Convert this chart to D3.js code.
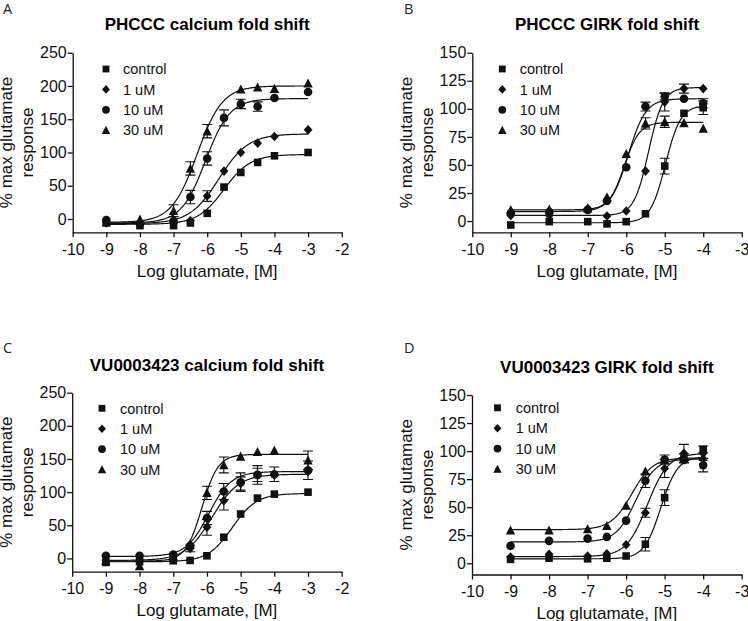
<!DOCTYPE html>
<html lang="en">
<head>
<meta charset="UTF-8">
<title>Glutamate fold shift</title>
<script src="https://cdn.jsdelivr.net/npm/d3@7"></script>
<style>
	body { margin: 0; background: #fff; }
	svg { display: block; font-family: "Liberation Sans", Arial, sans-serif; }
	.tick text { font-size: 16px; fill: #111; }
	.tick line, .domain { stroke: #111; stroke-width: 1.3; }
	.title { font-size: 17px; font-weight: bold; text-anchor: middle; }
	.axis-title { font-size: 17px; text-anchor: middle; fill: #111; }
	.letter { font-family: "Open Sans", sans-serif; font-size: 14.5px; fill: #222; }
	.legend text { font-size: 14.5px; fill: #111; }
	.curve { fill: none; stroke: #111; stroke-width: 1.2; }
	.err { stroke: #111; stroke-width: 1.1; fill: none; }
</style>
</head>
<body>
<div id="chart"></div>
<script>
// ---- data ----
var seriesLabels = ["control", "1 uM", "10 uM", "30 uM"];

var xCalcium = [-9, -8, -7, -6.5, -6, -5.5, -5, -4.5, -4, -3];
var xGirk = [-9, -8, -7, -6.5, -6, -5.5, -5, -4.5, -4];

var xTicksCalcium = [-10, -9, -8, -7, -6, -5, -4, -3, -2];
var xTicksGirk = [-10, -9, -8, -7, -6, -5, -4, -3];
var yTicksCalcium = [0, 50, 100, 150, 200, 250];
var yTicksGirk = [0, 25, 50, 75, 100, 125, 150];

// rows: control, 1 uM, 10 uM, 30 uM
var phcccCalciumMean = [
	[-5.5, -10, -10, -6, 8.5, 48, 70, 85, 95, 100],
	[-6, -7.5, -6, -2.5, 34.5, 72, 100, 114, 124, 134],
	[-1.5, -7.5, -3, 33, 91, 152, 173, 169, 182, 191],
	[-5, -0.5, 12.5, 76, 132, null, 195, 198, 196, 204]
];
var phcccCalciumErr = [
	[0, 0, 0, 0, 0, 0, 0, 0, 0, 0],
	[0, 0, 0, 0, 8, 0, 0, 0, 0, 0],
	[0, 0, 0, 10, 10, 12, 7, 7, 0, 0],
	[0, 0, 9, 10, 10, 0, 0, 0, 0, 0]
];
// [bottom, top, logEC50, hill]
var phcccCalciumFit = [
	[-8, 97, -5.5, 1.1],
	[-7, 128, -5.65, 1.0],
	[-6, 181, -6.05, 1.2],
	[-5, 200, -6.3, 1.15]
];

var phcccGirkMean = [
	[-3.5, -0.5, -0.5, -2.5, -0.5, 6.5, 49, 96, 101],
	[5, 5, 11, 4.5, 9, 44.5, 106, 118, 118],
	[7, 8, 10, 18, 48, 102, 111, 109, 105],
	[10, 10.5, 11.5, 21.5, 60, 87, 88.5, 87.5, 82.5]
];
var phcccGirkErr = [
	[0, 0, 0, 0, 0, 0, 7, 0, 6],
	[0, 0, 0, 0, 0, 0, 8, 4, 0],
	[0, 0, 0, 0, 0, 4, 3, 0, 4],
	[0, 0, 0, 0, 0, 5, 5, 0, 0]
];
var phcccGirkFit = [
	[-1.5, 103, -4.98, 2.2],
	[5, 119, -5.42, 2.3],
	[8.5, 109, -5.95, 1.9],
	[10, 88, -6.05, 2.2]
];

var vuCalciumMean = [
	[-6, -5, -3.5, -3, 4, 32, 67, 91, 97, 100],
	[-3, -3, -1, 15, 47, 87, 113, 126, 126, 131],
	[4, 4, 6, 19, 61, 101, 115, 126, 127, 133],
	[-3, -11.5, 2.5, 22, 99, 141, 154, 161, 163, 148]
];
var vuCalciumErr = [
	[0, 0, 0, 0, 0, 0, 0, 0, 0, 0],
	[0, 0, 0, 5, 12, 14, 10, 10, 0, 0],
	[0, 0, 0, 0, 10, 12, 14, 14, 11, 14],
	[0, 0, 0, 0, 10, 12, 0, 0, 0, 14]
];
var vuCalciumFit = [
	[-5, 98, -5.25, 1.2],
	[-3, 127, -5.85, 1.1],
	[3, 131, -5.95, 1.3],
	[-4, 157, -6.15, 1.8]
];

var vuGirkMean = [
	[3.5, 4.5, 4, 4.5, 6.5, 17, 58.5, 93.5, 101.5],
	[5.5, 8, 6.5, 8.5, 16.5, 45, 84.5, 98, 98],
	[15.5, 20, 22, 23.5, 38, 73.5, 92.5, 92, 87.5],
	[29.5, 29.5, 30.5, 33.5, 51.5, 82, 92, 95, 95]
];
var vuGirkErr = [
	[0, 0, 0, 0, 0, 6, 7, 4, 3],
	[0, 0, 0, 0, 0, 4, 8, 8, 0],
	[0, 0, 0, 0, 0, 6, 4, 0, 6],
	[0, 0, 0, 0, 0, 0, 0, 0, 0]
];
var vuGirkFit = [
	[4, 95, -5.1, 2.0],
	[6, 98, -5.45, 1.6],
	[19, 93, -5.75, 1.7],
	[30, 94, -5.85, 1.6]
];

// ---- layout ----
var panels = [
	{letter: "A", title: "PHCCC calcium fold shift", xs: xCalcium, mean: phcccCalciumMean, err: phcccCalciumErr, fit: phcccCalciumFit,
	 xDomain: [-10, -2], yDomain: [-20, 250], xTicks: xTicksCalcium, yTicks: yTicksCalcium,
	 left: 72.7, right: 341.7, top: 52.7, bottom: 232.3, letterX: 3, letterY: 14, titleY: 30, legX: 106, legY: 69, legTextX: 123},
	{letter: "B", title: "PHCCC GIRK fold shift", xs: xGirk, mean: phcccGirkMean, err: phcccGirkErr, fit: phcccGirkFit,
	 xDomain: [-10, -3], yDomain: [-10, 150], xTicks: xTicksGirk, yTicks: yTicksGirk,
	 left: 472.3, right: 741.7, top: 52.7, bottom: 232.3, letterX: 404, letterY: 14, titleY: 30, legX: 502.3, legY: 69, legTextX: 519.7},
	{letter: "C", title: "VU0003423 calcium fold shift", xs: xCalcium, mean: vuCalciumMean, err: vuCalciumErr, fit: vuCalciumFit,
	 xDomain: [-10, -2], yDomain: [-20, 250], xTicks: xTicksCalcium, yTicks: yTicksCalcium,
	 left: 72.2, right: 341.7, top: 392.7, bottom: 571.7, letterX: 3, letterY: 353, titleY: 370.5, legX: 102, legY: 408.3, legTextX: 120},
	{letter: "D", title: "VU0003423 GIRK fold shift", xs: xGirk, mean: vuGirkMean, err: vuGirkErr, fit: vuGirkFit,
	 xDomain: [-10, -3], yDomain: [-10, 150], xTicks: xTicksGirk, yTicks: yTicksGirk,
	 left: 472, right: 741.7, top: 395, bottom: 574.5, letterX: 404, letterY: 353, titleY: 372.5, legX: 497.5, legY: 407.8, legTextX: 515.7}
];

var legendStep = 20.4;

// marker shapes: square, diamond, circle, triangle
function markerPath(i, k) {
	k = k || 1;
	if (i === 0) {
		var s = 3.8 * k;
		return 'M' + (-s) + ',' + (-s) + 'h' + (2 * s) + 'v' + (2 * s) + 'h' + (-2 * s) + 'Z';
	}
	if (i === 1) {
		var w = 4.4 * k, h = 4.8 * k;
		return 'M0,' + (-h) + 'L' + w + ',0L0,' + h + 'L' + (-w) + ',0Z';
	}
	if (i === 2) {
		var r = 4.3 * k;
		return 'M' + (-r) + ',0a' + r + ',' + r + ' 0 1,0 ' + (2 * r) + ',0a' + r + ',' + r + ' 0 1,0 ' + (-2 * r) + ',0Z';
	}
	var tw = 4.7 * k, th = 4.3 * k;
	return 'M0,' + (-th - 0.5) + 'L' + tw + ',' + th + 'L' + (-tw) + ',' + th + 'Z';
}

function logistic(p, x) {
	return p[0] + (p[1] - p[0]) / (1 + Math.pow(10, (p[2] - x) * p[3]));
}

// plain hyphen for negatives, as in the original figure
function tickLabel(d) { return String(d); }

var svg = d3.select('#chart').append('svg')
	.attr('width', 748)
	.attr('height', 621);

svg.append('rect').attr('width', 748).attr('height', 621).attr('fill', '#fff');

panels.forEach(function (p) {
	var x = d3.scaleLinear().domain(p.xDomain).range([p.left, p.right]);
	var y = d3.scaleLinear().domain(p.yDomain).range([p.bottom, p.top]);
	var g = svg.append('g');

	// axes
	g.append('g')
		.attr('transform', 'translate(0,' + p.bottom + ')')
		.call(d3.axisBottom(x).tickValues(p.xTicks).tickSize(5).tickSizeOuter(0).tickPadding(6).tickFormat(tickLabel))
		.call(function (a) { a.selectAll('text').attr('font-family', null).attr('font-size', null); });

	g.append('g')
		.attr('transform', 'translate(' + p.left + ',0)')
		.call(d3.axisLeft(y).tickValues(p.yTicks).tickSize(5).tickSizeOuter(0).tickPadding(1).tickFormat(tickLabel))
		.call(function (a) { a.selectAll('text').attr('font-family', null).attr('font-size', null); });

	g.selectAll('.domain').attr('stroke', '#111');

	// fitted curves
	var lo = p.xs[0], hi = p.xs[p.xs.length - 1];
	var samples = d3.range(0, 201).map(function (i) { return lo + (hi - lo) * i / 200; });
	p.fit.forEach(function (f) {
		g.append('path')
			.attr('class', 'curve')
			.attr('d', d3.line()
				.x(function (d) { return x(d); })
				.y(function (d) { return y(logistic(f, d)); })(samples));
	});

	// error bars
	p.mean.forEach(function (row, si) {
		row.forEach(function (v, j) {
			var e = p.err[si][j];
			if (v === null || !e) return;
			var cx = x(p.xs[j]);
			g.append('path')
				.attr('class', 'err')
				.attr('d', 'M' + cx + ',' + y(v - e) + 'V' + y(v + e) +
					'M' + (cx - 5) + ',' + y(v + e) + 'H' + (cx + 5) +
					'M' + (cx - 5) + ',' + y(v - e) + 'H' + (cx + 5));
		});
	});

	// markers
	p.mean.forEach(function (row, si) {
		g.selectAll('.m' + si)
			.data(row.map(function (v, j) { return {x: p.xs[j], v: v}; }).filter(function (d) { return d.v !== null; }))
			.enter().append('path')
			.attr('class', 'm' + si)
			.attr('d', markerPath(si))
			.attr('fill', '#111')
			.attr('transform', function (d) { return 'translate(' + x(d.x) + ',' + y(d.v) + ')'; });
	});

	// legend
	var legend = g.append('g').attr('class', 'legend');
	seriesLabels.forEach(function (name, i) {
		var ly = p.legY + i * legendStep;
		legend.append('path')
			.attr('d', markerPath(i, 0.9))
			.attr('fill', '#111')
			.attr('transform', 'translate(' + p.legX + ',' + ly + ')');
		legend.append('text')
			.attr('x', p.legTextX)
			.attr('y', ly + 5.2)
			.text(name);
	});

	// titles
	g.append('text').attr('class', 'title')
		.attr('x', (p.left + p.right) / 2)
		.attr('y', p.titleY)
		.text(p.title);

	g.append('text').attr('class', 'letter')
		.attr('x', p.letterX)
		.attr('y', p.letterY)
		.text(p.letter);

	g.append('text').attr('class', 'axis-title')
		.attr('x', (p.left + p.right) / 2)
		.attr('y', p.bottom + 44.5)
		.text('Log glutamate, [M]');

	var yl = g.append('text').attr('class', 'axis-title')
		.attr('transform', 'translate(' + (p.left - 60.5) + ',' + ((p.top + p.bottom) / 2) + ') rotate(-90)');
	yl.append('tspan').attr('x', 0).attr('y', 0).text('% max glutamate');
	yl.append('tspan').attr('x', 0).attr('y', 21).text('response');
});
</script>
</body>
</html>
